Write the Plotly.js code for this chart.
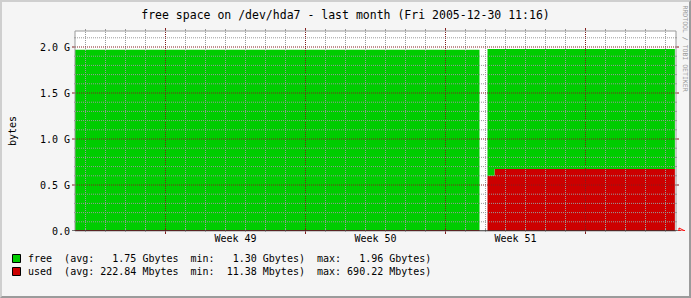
<!DOCTYPE html>
<html>
<head>
<meta charset="utf-8">
<script src="https://cdn.plot.ly/plotly-3.0.1.min.js"></script>
<style>
  html, body { margin: 0; padding: 0; background: #f5f5f5; }
  #wrap { width: 691px; height: 298px; box-sizing: border-box;
          border-top: 2px solid #cfcfcf; border-left: 2px solid #cfcfcf;
          border-right: 2px solid #9b9b9b; border-bottom: 2px solid #9b9b9b;
          background: #f5f5f5; overflow: hidden; }
  #chart { width: 687px; height: 294px; }
</style>
</head>
<body>
<div id="wrap"><div id="chart"></div></div>
<script>
// ---- data (values in Gbytes) ----
const timeLeft  = ['2005-11-30 11:16', '2005-12-20 16:48'];
const usedLeft  = [0.0111, 0.0111];
const freeLeft  = [1.96, 1.96];

const timeRight = ['2005-12-21 02:24', '2005-12-21 10:48', '2005-12-30 11:16'];
const usedRight = [0.601, 0.674, 0.674];
const freeRight = [1.377, 1.304, 1.304];

const weekTickVals = ['2005-12-08 12:00', '2005-12-15 12:00', '2005-12-22 12:00'];
const weekTickText = ['Week 49', 'Week 50', 'Week 51'];
const yTickVals = [0, 0.5, 1.0, 1.5, 2.0];
const yTickText = ['0.0', '0.5 G', '1.0 G', '1.5 G', '2.0 G'];

const legendNames = ['free', 'used'];
const legendColors = ['#00cc00', '#cc0000'];
const legendLines = [
  'free  (avg:   1.75 Gbytes  min:   1.30 Gbytes)  max:   1.96 Gbytes)',
  'used  (avg: 222.84 Mbytes  min:  11.38 Mbytes)  max: 690.22 Mbytes)'
];

const titleText = 'free space on /dev/hda7 - last month (Fri 2005-12-30 11:16)';
// axis window (20 px per day across the 601 px plot width)
const xStart = '2005-11-30 11:24';
const xEnd = '2005-12-30 12:36';
const yMax = 2.174;

// ---- traces ----
function sum(a, b) { return a.map((v, i) => v + b[i]); }
const base = { mode: 'lines', line: { width: 0, shape: 'hv' }, hoverinfo: 'skip', showlegend: false };
const traces = [
  Object.assign({}, base, { x: timeLeft, y: usedLeft, fill: 'tozeroy', fillcolor: '#cc0000' }),
  Object.assign({}, base, { x: timeLeft, y: sum(usedLeft, freeLeft), fill: 'tonexty', fillcolor: '#00cc00' }),
  Object.assign({}, base, { x: timeRight, y: usedRight, fill: 'tozeroy', fillcolor: '#cc0000' }),
  Object.assign({}, base, { x: timeRight, y: sum(usedRight, freeRight), fill: 'tonexty', fillcolor: '#00cc00' })
];

// ---- grid (drawn above the areas like rrdtool) ----
const MINOR = '#999999', MAJOR = '#821e1e';
const shapes = [];
const pad = n => (n < 10 ? '0' : '') + n;
const mondays = [5, 12, 19, 26];
for (let d = 1; d <= 30; d++) {
  const t = '2005-12-' + pad(d) + ' 00:00';
  const major = mondays.indexOf(d) >= 0;
  const col = major ? MAJOR : MINOR;
  shapes.push({ type: 'line', layer: 'above', xref: 'x', yref: 'paper', x0: t, x1: t, y0: 0, y1: 1,
                line: { color: col, width: 1, dash: '1px,1px' } });
  shapes.push({ type: 'line', layer: 'above', xref: 'x', yref: 'paper', ysizemode: 'pixel', yanchor: 0,
                x0: t, x1: t, y0: major ? -3 : -1, y1: 2, line: { color: col, width: 1 } });
  shapes.push({ type: 'line', layer: 'above', xref: 'x', yref: 'paper', ysizemode: 'pixel', yanchor: 1,
                x0: t, x1: t, y0: 0, y1: major ? 3 : 2, line: { color: col, width: 1 } });
}
for (let k = 1; k <= 21; k++) {
  const v = k / 10;
  const major = (k % 5 === 0);
  const col = major ? MAJOR : MINOR;
  shapes.push({ type: 'line', layer: 'above', xref: 'paper', yref: 'y', x0: 0, x1: 1, y0: v, y1: v,
                line: { color: col, width: 1, dash: '1px,1px' } });
  shapes.push({ type: 'line', layer: 'above', xref: 'paper', xsizemode: 'pixel', xanchor: 0, yref: 'y',
                x0: major ? -3 : -1, x1: 0, y0: v, y1: v, line: { color: col, width: 1 } });
  shapes.push({ type: 'line', layer: 'above', xref: 'paper', xsizemode: 'pixel', xanchor: 1, yref: 'y',
                x0: 0, x1: major ? 3 : 1, y0: v, y1: v, line: { color: col, width: 1 } });
}
// frame (top, left, right)
shapes.push({ type: 'rect', layer: 'above', xref: 'paper', yref: 'paper', x0: 0, x1: 1, y0: 0, y1: 1,
              line: { color: '#999999', width: 1 }, fillcolor: 'rgba(0,0,0,0)' });
// zero axis line with arrow
shapes.push({ type: 'line', layer: 'above', xref: 'paper', xsizemode: 'pixel', xanchor: 0, yref: 'y',
              x0: -3, x1: 606, y0: 0, y1: 0, line: { color: '#000000', width: 1 } });
shapes.push({ type: 'path', layer: 'above', xref: 'paper', xsizemode: 'pixel', xanchor: 1,
              yref: 'y', ysizemode: 'pixel', yanchor: 0,
              path: 'M 2 0 L 9 0 M 3 -3 L 3 3 L 9 0 Z',
              line: { color: '#ff0000', width: 1 }, fillcolor: 'rgba(0,0,0,0)' });

// legend boxes
const PL = 75, PB = 231, PW = 601, PH = 200;
const px = x => (x - PL) / PW;
const py = y => (PB - y) / PH;
const rowsY = [258, 271];
legendNames.forEach((n, i) => {
  shapes.push({ type: 'rect', layer: 'above', xref: 'paper', yref: 'paper',
                x0: px(12.5), x1: px(20.5), y0: py(rowsY[i] - 3.5), y1: py(rowsY[i] + 4.5),
                line: { color: '#000000', width: 1 }, fillcolor: legendColors[i] });
});

const mono = 'DejaVu Sans Mono, monospace';
const annotations = legendLines.map((s, i) => ({
  xref: 'paper', yref: 'paper', x: px(26), y: py(rowsY[i]), xanchor: 'left', yanchor: 'middle',
  text: s.replace(/ /g, '\u00a0'), showarrow: false, font: { family: mono, size: 10, color: '#000' }
}));
annotations.push({
  xref: 'paper', yref: 'paper', x: px(12), y: py(131), xanchor: 'center', yanchor: 'middle',
  text: 'bytes', textangle: -90, showarrow: false, font: { family: mono, size: 10, color: '#000' }
});
annotations.push({
  xref: 'paper', yref: 'paper', x: px(684.5), y: py(48), xanchor: 'center', yanchor: 'middle',
  text: 'RRDTOOL / TOBI OETIKER', textangle: 90, showarrow: false,
  font: { family: mono, size: 6.5, color: '#999999' }
});

const layout = {
  width: 687, height: 294,
  margin: { l: 73, r: 13, t: 29, b: 65, pad: 0 },
  paper_bgcolor: '#f5f5f5', plot_bgcolor: '#ffffff',
  title: { text: titleText, x: 0.5, xref: 'container', xanchor: 'center',
           y: 1 - 13 / 294, yref: 'container', yanchor: 'middle',
           font: { family: mono, size: 11.5, color: '#000' } },
  xaxis: { type: 'date', range: [xStart, xEnd], showgrid: false, zeroline: false, showline: false,
           tickmode: 'array', tickvals: weekTickVals, ticktext: weekTickText, ticks: '',
           tickfont: { family: mono, size: 10, color: '#000' }, fixedrange: true },
  yaxis: { range: [0, yMax], showgrid: false, zeroline: false, showline: false,
           tickmode: 'array', tickvals: yTickVals, ticktext: yTickText, ticks: '',
           ticklabelstandoff: 4,
           tickfont: { family: mono, size: 10, color: '#000' }, fixedrange: true },
  shapes: shapes,
  annotations: annotations,
  showlegend: false
};

Plotly.newPlot('chart', traces, layout, { staticPlot: true, displayModeBar: false });
</script>
</body>
</html>
